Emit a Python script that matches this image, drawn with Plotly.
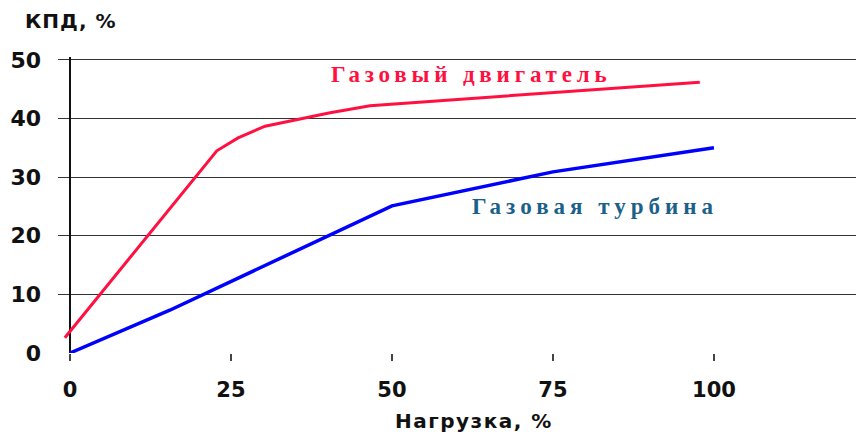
import plotly.graph_objects as go

# Data
engine_load = [-0.8, 15.8, 22.8, 26.1, 30.3, 40.4, 46.6, 97.8]
engine_eff = [2.6, 24.9, 34.5, 36.7, 38.7, 41.0, 42.2, 46.2]

turbine_load = [0, 15.5, 50, 75, 100]
turbine_eff = [0, 7.3, 25.1, 30.9, 35.0]

x_ticks = [0, 25, 50, 75, 100]
y_ticks = [0, 10, 20, 30, 40, 50]

engine_label = "Газовый двигатель"
turbine_label = "Газовая турбина"
y_title = "КПД, %"
x_title = "Нагрузка, %"


def spaced(s, px):
    return '<span style="letter-spacing:%spx">%s</span>' % (px, s)


SANS = "DejaVu Sans, Arial, sans-serif"
SERIF = "Liberation Serif, Times New Roman, serif"

fig = go.Figure()
fig.add_trace(go.Scatter(x=engine_load, y=engine_eff, mode="lines",
                         line=dict(color="#ff1040", width=3), name=engine_label,
                         showlegend=False))
fig.add_trace(go.Scatter(x=turbine_load, y=turbine_eff, mode="lines",
                         line=dict(color="#0000ff", width=3.5), name=turbine_label,
                         showlegend=False))

fig.update_layout(
    width=856, height=424,
    margin=dict(l=50, r=0, t=49, b=79),
    plot_bgcolor="white", paper_bgcolor="white",
    xaxis=dict(range=[-1.86, 123.3], tickvals=x_ticks,
               ticktext=[str(v) for v in x_ticks], showgrid=False,
               zeroline=True, zerolinecolor="#111", zerolinewidth=1.5,
               ticks="outside", ticklen=7, tickcolor="#444", tickwidth=1.5,
               ticklabelstandoff=11,
               tickfont=dict(family=SANS, size=21, color="#111", weight="bold"),
               showline=False, fixedrange=True),
    yaxis=dict(range=[0, 50.5], tickvals=y_ticks, showgrid=True,
               gridcolor="#333", gridwidth=1.3, zeroline=False,
               ticks="", ticklabelstandoff=16,
               tickfont=dict(family=SANS, size=22, color="#111", weight="bold"),
               showline=False, fixedrange=True),
    showlegend=False,
)

fig.add_annotation(x=0, y=1.0, xref="paper", yref="paper", xshift=-35, yshift=36,
                   text=spaced(y_title, 1), showarrow=False,
                   xanchor="left", yanchor="middle",
                   font=dict(family=SANS, size=20, color="#111", weight="bold"))
fig.add_annotation(x=62.7, y=0, xref="x", yref="paper", yshift=-68,
                   text=spaced(x_title, 1.5), showarrow=False,
                   xanchor="center", yanchor="middle",
                   font=dict(family=SANS, size=20, color="#111", weight="bold"))
fig.add_annotation(x=62.2, y=47.5, xref="x", yref="y", text=spaced(engine_label, 4.8),
                   showarrow=False,
                   font=dict(family=SERIF, size=23, color="#ff1040", weight="bold"))
fig.add_annotation(x=81.5, y=25.0, xref="x", yref="y", text=spaced(turbine_label, 5),
                   showarrow=False,
                   font=dict(family=SERIF, size=23, color="#1a6088", weight="bold"))

fig.write_html("out.html")
